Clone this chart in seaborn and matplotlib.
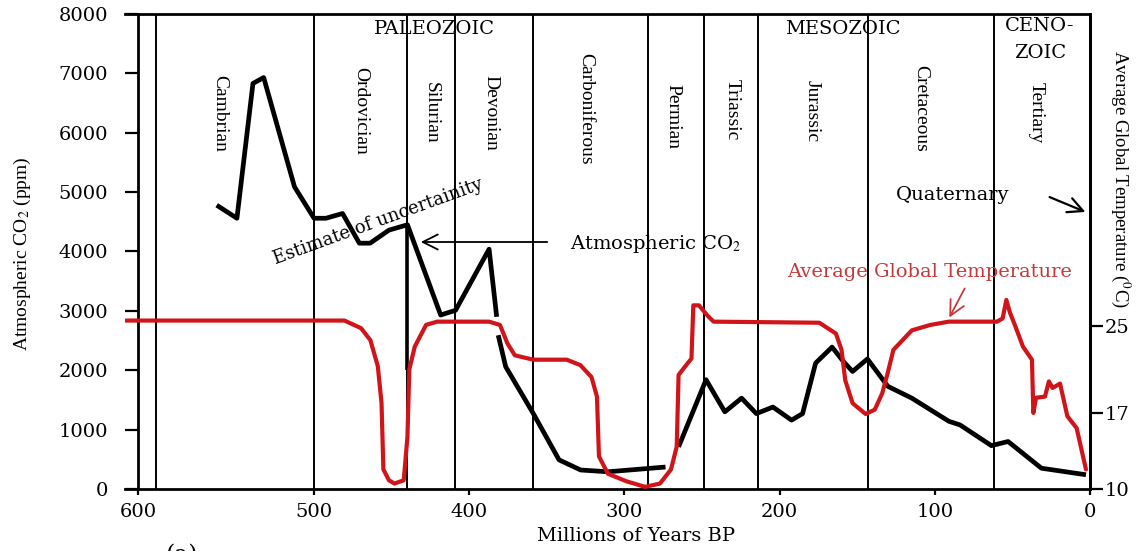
import numpy as np
import pandas as pd
import matplotlib
matplotlib.use("Agg")
import matplotlib.pyplot as plt
import seaborn as sns

# ---------------- data ----------------
co2_age = [555.3, 543.8, 534.7, 528.6, 511.1, 500, 492.3, 481.6, 470.8, 463.9, 451.7, 439.8, 418.4, 408.8, 387.2, 382.3,
           381.3, 376.5, 358.9, 342.1, 328.2, 310.6, 273.5,
           265.1, 247.4, 235.3, 224.5, 215, 204.3, 192.3, 185.2, 176.8, 166.2, 159, 153, 143.4, 130.3, 114.8, 90.9,
           83.8, 63.5, 52.8, 31.3, 2.6]
co2_ppm = [4780, 4560, 6830, 6930, 5090, 4560, 4560, 4640, 4140, 4140, 4360, 4450, 2930, 3010, 4040, 2900,
           2590, 2060, 1280, 490, 320, 290, 370,
           710, 1840, 1300, 1530, 1270, 1380, 1160, 1270, 2120, 2390, 2150, 1980, 2190, 1730, 1530, 1140,
           1080, 730, 800, 350, 240]
co2_segment = [1] * 16 + [2] * 7 + [3] * 21

temp_age = [607, 480.4, 469.7, 463.7, 458.9, 456.5, 455.3, 451.7, 448.2, 442.2, 439.8, 438.6, 435.1, 427.8, 420.7,
            387.2, 380.2, 375.4, 370.6, 358.7, 337.2, 328.4, 321.2, 317.7, 316.4, 310.6, 298.5, 286.7, 277.1, 270,
            266.3, 265.1, 259.1, 256.8, 255.6, 252, 246.1, 242.5, 174.4, 163.7, 160.1, 157.7, 153, 144.6, 138.7,
            133.9, 130.3, 126.7, 114.8, 102.8, 90.9, 59.9, 56.3, 53.9, 51.5, 47.9, 43.2, 37.4, 36.5, 34.8, 29,
            26.5, 24.1, 19.3, 14.6, 8.6, 2.6]
temp_c = [25.5, 25.5, 24.8, 23.7, 21.3, 17.9, 11.8, 10.8, 10.5, 10.8, 14.8, 21.0, 23.1, 25.1, 25.4,
          25.4, 25.1, 23.4, 22.3, 21.9, 21.9, 21.4, 20.3, 18.5, 13.0, 11.4, 10.7, 10.2, 10.5, 11.8,
          13.9, 20.5, 21.6, 22.0, 26.9, 26.9, 25.9, 25.4, 25.3, 24.3, 22.8, 20.0, 17.9, 16.9, 17.3,
          18.8, 20.7, 22.8, 24.6, 25.1, 25.4, 25.4, 25.7, 27.4, 26.2, 24.9, 23.1, 21.9, 17.0, 18.4, 18.5,
          19.9, 19.3, 19.7, 16.7, 15.6, 11.8]

epoch_bounds = [590, 500, 440, 409, 359, 285, 249, 214, 143, 62]
period_names = ["Cambrian", "Ordovician", "Silurian", "Devonian", "Carboniferous", "Permian",
                "Triassic", "Jurassic", "Cretaceous", "Tertiary"]
uncert_bar_age = 440
uncert_bar_ppm = [2000, 4450]

x_ticks = [600, 500, 400, 300, 200, 100, 0]
y_ticks = [0, 1000, 2000, 3000, 4000, 5000, 6000, 7000, 8000]
t_ticks = [10, 17, 25]

# ---------------- style ----------------
sns.set_theme(style="ticks")
plt.rcParams['font.family'] = ['Liberation Serif', 'DejaVu Serif']
plt.rcParams['mathtext.fontset'] = 'stix'
for k in ['text.color', 'axes.labelcolor', 'xtick.color', 'ytick.color', 'axes.edgecolor']:
    plt.rcParams[k] = 'black'

RED = "#d0141a"
RED_TXT = "#c43a3a"
HFONT = 'DejaVu Serif'

W, H = 1145, 551
fig = plt.figure(figsize=(W / 100, H / 100), dpi=100)
ax = fig.add_axes([125 / W, 1 - 489 / H, 965 / W, 475 / H])

K = 1.76 / 1.552


def fwd(x):
    x = np.asarray(x, float)
    return np.where(x <= 500, x, 500 + (x - 500) * K)


def inv(u):
    u = np.asarray(u, float)
    return np.where(u <= 500, u, 500 + (u - 500) / K)


ax.set_xscale('function', functions=(fwd, inv))

for b in epoch_bounds:
    ax.axvline(b, color='black', lw=1.4, zorder=1)

co2_df = pd.DataFrame({"age": co2_age, "ppm": co2_ppm, "seg": co2_segment})
sns.lineplot(data=co2_df, x="age", y="ppm", units="seg", estimator=None, sort=False,
             color='black', lw=3.4, ax=ax, legend=False, zorder=3,
             solid_joinstyle='round', solid_capstyle='butt')
ax.vlines(uncert_bar_age, uncert_bar_ppm[0], uncert_bar_ppm[1], color='black', lw=2.6, zorder=3)

ax.set_xlim(607.4, 0)
ax.set_ylim(0, 8000)
ax.set_xticks(x_ticks)
ax.set_xticklabels([str(v) for v in x_ticks])
ax.set_yticks(y_ticks)
ax.set_yticklabels([str(v) for v in y_ticks])
ax.set_xlabel("")
ax.set_ylabel("")
ax.spines['left'].set_position(('data', 600))
for s in ['left', 'bottom', 'top', 'right']:
    ax.spines[s].set_linewidth(2)
    ax.spines[s].set_color('black')
ax.tick_params(axis='y', direction='out', length=9.4, width=1.6, pad=12, labelsize=14)
ax.tick_params(axis='x', direction='out', length=4, width=1.6, pad=6, labelsize=14)
for lab in ax.get_xticklabels() + ax.get_yticklabels():
    lab.set_family(HFONT)

ax2 = ax.twinx()
sns.lineplot(x=temp_age, y=temp_c, sort=False, estimator=None, color=RED, lw=3.0, ax=ax2,
             solid_joinstyle='round')
ax2.set_ylim(10, 53.71)
ax2.set_yticks(t_ticks)
ax2.set_yticklabels([str(v) for v in t_ticks])
ax2.set_ylabel("")
for s in ['left', 'bottom', 'top']:
    ax2.spines[s].set_visible(False)
ax2.spines['right'].set_linewidth(2)
ax2.tick_params(axis='y', direction='out', length=9.4, width=1.6, pad=1, labelsize=14)
for lab in ax2.get_yticklabels():
    lab.set_family(HFONT)


def P(px, py):
    return (px / W, 1 - py / H)


# era labels
fig.text(*P(434, 29), "PALEOZOIC", ha='center', va='center', fontsize=14, family=HFONT)
fig.text(*P(843, 29), "MESOZOIC", ha='center', va='center', fontsize=14, family=HFONT)
fig.text(*P(1040, 26), "CENO-", ha='center', va='center', fontsize=14, family=HFONT)
fig.text(*P(1040, 53), "ZOIC", ha='center', va='center', fontsize=14, family=HFONT)

# period labels (vertical)
period_px = [(220, 113), (361, 111), (431, 113), (491, 113), (586, 109), (673, 117),
             (732, 110), (812, 111), (921, 108), (1036, 113)]
for name, (px, py) in zip(period_names, period_px):
    fig.text(*P(px, py), name, rotation=270, ha='center', va='center', fontsize=14)

fig.text(*P(953, 195), "Quaternary", ha='center', va='center', fontsize=14, family=HFONT)
fig.text(*P(570, 244), "Atmospheric CO$_2$", ha='left', va='center', fontsize=14, family=HFONT)
fig.text(*P(930, 272), "Average Global Temperature", ha='center', va='center', fontsize=14,
         family=HFONT, color=RED_TXT)
fig.text(*P(378, 222), "Estimate of uncertainity", ha='center', va='center', fontsize=13,
         family=HFONT, rotation=20, rotation_mode='anchor')

# arrows
ax.annotate("", xy=P(418, 242), xytext=P(550, 242), xycoords='figure fraction', textcoords='figure fraction',
            arrowprops=dict(arrowstyle='->,head_length=0.9,head_width=0.45', lw=1.3, color='black'))
ax.annotate("", xy=P(1088, 213), xytext=P(1047, 196), xycoords='figure fraction', textcoords='figure fraction',
            arrowprops=dict(arrowstyle='->,head_length=0.9,head_width=0.45', lw=1.6, color='black'))
ax.annotate("", xy=P(948, 320), xytext=P(966, 286), xycoords='figure fraction', textcoords='figure fraction',
            arrowprops=dict(arrowstyle='->,head_length=0.9,head_width=0.45', lw=1.3, color=RED_TXT))

# axis labels
fig.text(*P(22, 254), "Atmospheric CO$_2$ (ppm)", rotation=90, ha='center', va='center', fontsize=14)
fig.text(*P(1121, 179), "Average Global Temperature ($^0$C)", rotation=270, ha='center', va='center',
         fontsize=13.5)
fig.text(*P(636, 536), "Millions of Years BP", ha='center', va='center', fontsize=14, family=HFONT)
fig.text(*P(181, 556), "(a)", ha='center', va='center', fontsize=17, family=HFONT)

fig.savefig("out.png", dpi=100, facecolor='white')
